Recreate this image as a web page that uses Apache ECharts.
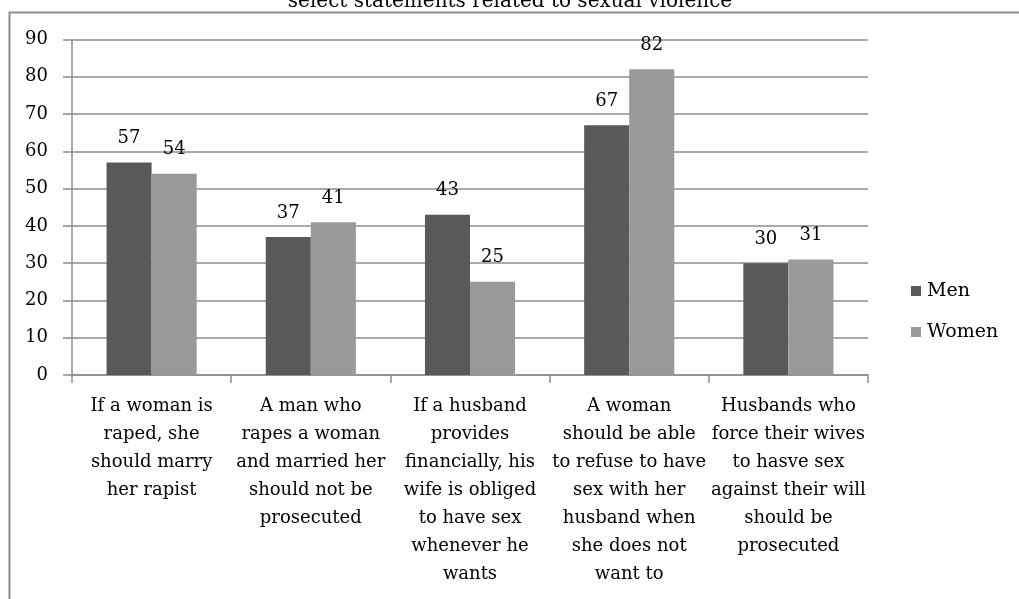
<!DOCTYPE html>
<html>
<head>
<meta charset="utf-8">
<script src="https://cdn.jsdelivr.net/npm/echarts@6/dist/echarts.min.js"></script>
<style>
  html, body { margin: 0; padding: 0; background: #fff; }
  #chart { width: 1019px; height: 599px; }
</style>
</head>
<body>
<div id="chart"></div>
<script>
const titleText = "select statements related to sexual violence";
const categories = [
  "If a woman is\nraped, she\nshould marry\nher rapist",
  "A man who\nrapes a woman\nand married her\nshould not be\nprosecuted",
  "If a husband\nprovides\nfinancially, his\nwife is obliged\nto have sex\nwhenever he\nwants",
  "A woman\nshould be able\nto refuse to have\nsex with her\nhusband when\nshe does not\nwant to",
  "Husbands who\nforce their wives\nto hasve sex\nagainst their will\nshould be\nprosecuted"
];
const men = [57, 37, 43, 67, 30];
const women = [54, 41, 25, 82, 31];
const yTicks = { min: 0, max: 90, interval: 10 };

const font = "DejaVu Serif";
const axisGray = "#8c8c8c";

let chartDom = document.getElementById("chart");
let myChart = echarts.init(chartDom);

let labelStyle = {
  show: true,
  position: "top",
  distance: 15,
  fontFamily: font,
  fontSize: 18,
  color: "#000",
};

let option = {
  animation: false,
  backgroundColor: "#fff",
  textStyle: { fontFamily: font },
  title: {
    text: titleText,
    left: 505,
    textAlign: "center",
    top: -13,
    textStyle: { fontFamily: font, fontSize: 20, fontWeight: "normal", color: "#000" },
  },
  graphic: [
    {
      type: "polyline",
      shape: { points: [[9.5, 599], [9.5, 12.5], [1019, 12.5]] },
      style: { stroke: axisGray, lineWidth: 2, fill: null },
      silent: true,
    },
  ],
  legend: {
    orient: "vertical",
    left: 906,
    top: 276,
    itemWidth: 10,
    itemHeight: 10,
    itemGap: 21,
    icon: "rect",
    textStyle: { fontFamily: font, fontSize: 19, color: "#000", lineHeight: 20, padding: [0, 0, 0, 1] },
    data: ["Men", "Women"],
  },
  grid: { left: 72, right: 151, top: 39.5, bottom: 224 },
  xAxis: {
    type: "category",
    data: categories,
    axisLine: { lineStyle: { color: axisGray, width: 1.5 } },
    axisTick: { show: true, length: 8, interval: 0, lineStyle: { color: axisGray, width: 1.5 } },
    axisLabel: {
      interval: 0,
      margin: 17,
      fontFamily: font,
      fontSize: 18,
      lineHeight: 28,
      color: "#000",
      align: "center",
      verticalAlign: "top",
    },
  },
  yAxis: {
    type: "value",
    min: yTicks.min,
    max: yTicks.max,
    interval: yTicks.interval,
    axisLine: { show: true, lineStyle: { color: axisGray, width: 1.5 } },
    axisTick: { show: true, length: 9, lineStyle: { color: axisGray, width: 1.5 } },
    splitLine: { lineStyle: { color: axisGray, width: 1.5 } },
    axisLabel: { margin: 24, fontFamily: font, fontSize: 18, color: "#000" },
  },
  series: [
    {
      name: "Men",
      type: "bar",
      data: men,
      barWidth: "28.3%",
      barGap: "0%",
      itemStyle: { color: "#595959" },
      label: labelStyle,
    },
    {
      name: "Women",
      type: "bar",
      data: women,
      barWidth: "28.3%",
      barGap: "0%",
      itemStyle: { color: "#999999" },
      label: labelStyle,
    },
  ],
};

option && myChart.setOption(option);
</script>
</body>
</html>
